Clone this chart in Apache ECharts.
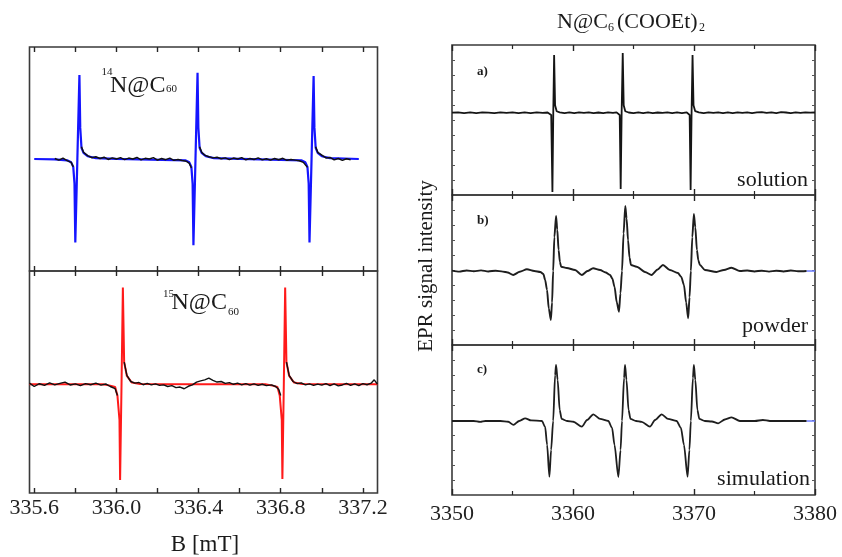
<!DOCTYPE html>
<html><head><meta charset="utf-8">
<script src="https://cdn.jsdelivr.net/npm/echarts@6/dist/echarts.min.js"></script>
<style>html,body{margin:0;padding:0;background:#fff}#c{width:842px;height:557px}</style>
</head><body><div id="c"></div>
<script>
// ---------- tick labels ----------
const leftTickLabels = [335.6, 336.0, 336.4, 336.8, 337.2];
const leftTicks = [335.6, 335.8, 336.0, 336.2, 336.4, 336.6, 336.8, 337.0, 337.2];
const rightTickLabels = [3350, 3360, 3370, 3380];

// ---------- 14N@C60 : fit (blue) ----------
const fit14N = [
  [335.60,0],[335.70,-0.004],[335.76,-0.012],[335.78,-0.03],[335.79,-0.07],[335.796,-0.22],[335.80,-0.745],
  [335.81,0],[335.82,0.75],[335.824,0.28],[335.83,0.1],[335.84,0.055],[335.86,0.025],[335.90,0.008],[336.00,0.002],
  [336.335,-0.012],[336.355,-0.03],[336.365,-0.07],[336.371,-0.22],[336.375,-0.77],[336.385,0],[336.395,0.77],
  [336.399,0.28],[336.405,0.1],[336.415,0.055],[336.435,0.025],[336.475,0.008],[336.60,0.002],
  [336.90,-0.012],[336.92,-0.03],[336.93,-0.07],[336.936,-0.22],[336.94,-0.745],[336.95,0],[336.96,0.74],
  [336.964,0.28],[336.97,0.1],[336.98,0.055],[337.00,0.025],[337.04,0.008],[337.18,0]
];
// ---------- 14N@C60 : experiment (black) ----------
const exp14N = [
  [335.70,0.005],[335.72,-0.01],[335.74,0.008],[335.76,-0.015],[335.78,-0.03],[335.79,-0.07],[335.80,null],
  [335.83,0.11],[335.84,0.06],[335.86,0.03],[335.88,0.012],[335.90,0.02],[335.92,0.004],[335.94,0.016],
  [335.96,-0.004],[335.98,0.01],[336.00,0.0],[336.02,0.012],[336.04,-0.006],[336.06,0.008],[336.08,0.0],
  [336.10,0.014],[336.12,-0.008],[336.14,0.006],[336.16,0.0],[336.18,0.012],[336.20,-0.01],[336.22,0.004],
  [336.24,-0.006],[336.26,0.008],[336.28,-0.012],[336.30,-0.004],[336.32,-0.014],[336.34,-0.02],[336.355,-0.04],
  [336.365,-0.08],[336.38,null],[336.405,0.11],[336.415,0.06],[336.43,0.035],[336.45,0.02],[336.47,0.01],
  [336.49,0.016],[336.51,0.002],[336.53,0.01],[336.55,-0.006],[336.57,0.008],[336.59,0.0],[336.61,0.012],
  [336.63,-0.008],[336.65,0.004],[336.67,-0.004],[336.69,0.01],[336.71,-0.008],[336.73,0.002],[336.75,-0.01],
  [336.77,0.004],[336.79,-0.006],[336.81,0.006],[336.83,-0.012],[336.85,-0.004],[336.87,-0.01],[336.89,-0.016],
  [336.91,-0.03],[336.93,-0.075],[336.945,null],[336.97,0.11],[336.98,0.06],[337.00,0.035],[337.02,0.01],
  [337.04,0.014],[337.06,-0.008],[337.08,0.004],[337.10,-0.012],[337.12,0.002],[337.14,-0.006]
];
// ---------- 15N@C60 : fit (red) ----------
const fit15N = [
  [335.577,0],[335.935,0],[335.97,-0.012],[335.994,-0.025],[336.005,-0.10],[336.015,-0.32],[336.018,-0.86],
  [336.025,0],[336.0315,0.87],[336.0377,0.2],[336.051,0.075],[336.075,0.015],[336.115,0.003],[336.40,0],
  [336.725,0],[336.76,-0.012],[336.784,-0.025],[336.795,-0.10],[336.805,-0.32],[336.808,-0.85],[336.815,0],
  [336.8215,0.87],[336.8277,0.2],[336.841,0.075],[336.865,0.015],[336.905,0.003],[337.271,0]
];
// ---------- 15N@C60 : experiment (black) ----------
const exp15N = [
  [335.577,0.01],[335.60,-0.02],[335.625,0.005],[335.65,-0.01],[335.675,0.012],[335.70,-0.005],[335.725,0.008],
  [335.75,0.02],[335.775,-0.006],[335.80,0.004],[335.825,-0.012],[335.85,0.006],[335.875,-0.004],[335.90,0.01],
  [335.925,-0.008],[335.95,0.002],[335.97,-0.02],[335.994,-0.04],[336.005,-0.1],[336.02,null],[336.038,0.2],
  [336.051,0.08],[336.07,0.025],[336.09,0.01],[336.11,0.016],[336.13,-0.004],[336.15,0.008],[336.17,-0.006],
  [336.19,0.004],[336.21,-0.01],[336.23,-0.005],[336.25,-0.02],[336.27,-0.012],[336.29,-0.03],[336.31,-0.025],
  [336.33,-0.04],[336.35,-0.018],[336.37,-0.005],[336.39,0.02],[336.41,0.03],[336.43,0.04],[336.45,0.055],
  [336.47,0.035],[336.49,0.02],[336.51,0.025],[336.53,0.008],[336.55,0.015],[336.57,0.0],[336.59,0.01],
  [336.61,-0.005],[336.63,0.006],[336.65,-0.008],[336.67,0.004],[336.69,-0.01],[336.71,0.0],[336.73,-0.012],
  [336.755,-0.005],[336.775,-0.02],[336.79,-0.045],[336.80,-0.1],[336.81,null],[336.828,0.2],[336.841,0.08],
  [336.86,0.025],[336.88,0.006],[336.90,0.012],[336.92,-0.006],[336.94,0.004],[336.96,-0.01],[336.98,0.002],
  [337.00,-0.008],[337.02,0.006],[337.04,-0.012],[337.06,0.004],[337.08,-0.014],[337.10,-0.006],[337.12,0.008],
  [337.14,-0.01],[337.16,0.004],[337.18,-0.012],[337.20,0.006],[337.22,-0.004],[337.24,0.01],[337.255,0.04],[337.271,0.0]
];
// ---------- N@C6(COOEt)2 : a) solution ----------
const solution = [
  [3350,0],[3350.5,0.006],[3351,-0.005],[3351.5,0.004],[3352,-0.006],[3352.5,0.005],[3353,0],[3353.5,-0.006],
  [3354,0.005],[3354.5,-0.003],[3355,0.006],[3355.5,-0.005],[3356,0.004],[3356.5,-0.004],[3357,0.006],[3357.5,-0.003],
  [3357.9,0.003],[3358.2,-0.03],[3358.30,-1.057],[3358.37,0],[3358.44,0.77],[3358.52,0.1],[3358.65,0.02],
  [3358.9,0.005],[3359.3,-0.004],[3359.7,0.006],[3360.1,-0.005],[3360.5,0.004],[3360.9,-0.003],[3361.3,0.006],
  [3361.7,-0.006],[3362.1,0.003],[3362.5,-0.004],[3362.9,0.005],[3363.3,-0.003],[3363.6,0.004],[3363.86,-0.03],
  [3363.94,-1.017],[3364.02,0],[3364.11,0.796],[3364.19,0.1],[3364.32,0.02],[3364.6,0.003],[3365.0,-0.005],
  [3365.4,0.006],[3365.8,-0.004],[3366.2,0.005],[3366.6,-0.006],[3367.0,0.003],[3367.4,-0.003],[3367.8,0.006],
  [3368.2,-0.005],[3368.6,0.004],[3369.0,-0.004],[3369.4,0.005],[3369.64,-0.03],[3369.72,-1.03],[3369.80,0],
  [3369.88,0.77],[3369.96,0.1],[3370.1,0.02],[3370.4,0.004],[3370.8,-0.005],[3371.2,0.006],[3371.6,-0.003],
  [3372.0,0.005],[3372.4,-0.006],[3372.8,0.004],[3373.2,-0.004],[3373.6,0.006],[3374.0,-0.003],[3374.4,0.005],
  [3374.8,-0.005],[3375.2,0.004],[3375.6,0.008],[3376.0,-0.003],[3376.4,0.006],[3376.8,-0.004],[3377.2,0.008],
  [3377.6,0.003],[3378.0,-0.004],[3378.4,0.005],[3378.8,-0.003],[3379.2,0.006],[3379.6,0],[3380,0.003]
];
// ---------- b) powder ----------
const powder = [
  [3350,0.005],[3350.6,-0.008],[3351.2,0.006],[3351.8,-0.004],[3352.4,0.008],[3353,-0.006],[3353.6,0.004],
  [3354.2,-0.008],[3354.6,-0.02],[3355.06,-0.053],[3355.6,-0.01],[3356.19,0.023],[3356.8,0],[3357.3,-0.013],
  [3357.55,-0.04],[3357.7,-0.12],[3357.85,-0.25],[3358.0,-0.5],[3358.17,-0.653],[3358.27,-0.42],[3358.36,0],
  [3358.46,0.45],[3358.6,0.733],[3358.7,0.55],[3358.81,0.28],[3358.92,0.12],[3359.02,0.057],[3359.49,0.04],
  [3360.17,0.013],[3360.73,-0.053],[3361.2,0],[3361.66,0.036],[3362.24,0.013],[3362.7,-0.02],[3363.06,-0.053],
  [3363.25,-0.1],[3363.43,-0.21],[3363.62,-0.42],[3363.8,-0.543],[3363.92,-0.3],[3364.05,0],[3364.18,0.5],
  [3364.32,0.867],[3364.43,0.7],[3364.55,0.41],[3364.67,0.18],[3364.79,0.08],[3365.26,0.057],[3365.95,-0.013],
  [3366.5,-0.053],[3367.0,0.02],[3367.43,0.08],[3368.01,0.013],[3368.67,-0.027],[3368.95,-0.08],[3369.17,-0.187],
  [3369.35,-0.42],[3369.52,-0.63],[3369.63,-0.35],[3369.74,0],[3369.86,0.45],[3369.99,0.76],[3370.11,0.58],
  [3370.24,0.28],[3370.36,0.14],[3370.49,0.08],[3370.9,0.013],[3371.86,-0.013],[3372.47,0.013],[3373.1,0.044],
  [3373.79,0],[3374.4,0.006],[3375,-0.006],[3375.6,0.004],[3376.2,-0.008],[3376.8,0.004],[3377.4,-0.006],
  [3378,0.006],[3378.6,-0.004],[3379.3,0]
];
// ---------- c) simulation ----------
const simulation = [
  [3350,0],[3351.8,0],[3352.33,-0.013],[3352.75,0],[3354.0,0],[3354.65,-0.01],[3355.08,-0.053],[3355.55,0],
  [3356.05,0.036],[3356.54,0.007],[3357.43,0],[3357.7,-0.08],[3357.86,-0.32],[3358.05,-0.743],[3358.19,-0.387],
  [3358.36,0],[3358.52,0.61],[3358.6,0.747],[3358.73,0.547],[3358.9,0.147],[3359.06,0.027],[3359.51,0],
  [3360.03,-0.01],[3360.73,-0.076],[3361.16,0.013],[3361.68,0.089],[3362.24,0.027],[3362.92,0],[3363.23,-0.093],
  [3363.43,-0.32],[3363.75,-0.747],[3363.93,-0.387],[3364.05,0],[3364.22,0.573],[3364.3,0.747],[3364.42,0.547],
  [3364.59,0.147],[3364.75,0.027],[3365.21,0],[3365.68,-0.013],[3366.36,-0.076],[3366.78,0.013],[3367.33,0.089],
  [3367.85,0.027],[3368.56,0],[3368.92,-0.093],[3369.17,-0.32],[3369.47,-0.743],[3369.62,-0.387],[3369.74,0],
  [3369.91,0.573],[3369.99,0.747],[3370.11,0.547],[3370.28,0.147],[3370.44,0.027],[3370.9,0],[3371.48,-0.007],
  [3372.0,-0.031],[3372.55,0.02],[3373.1,0.049],[3373.79,0],[3375.03,0],[3375.69,0.013],[3376.27,0],[3379.3,0]
];
const tailBlue = [[3379.3,0],[3380,0]];

// ---------- layout / style ----------
const SERIF = "'Liberation Serif','DejaVu Serif',serif";
const INK = '#262626';
const L = {left: 29.5, width: 348};
const R = {left: 452, width: 363};
const grids = [
  {left: L.left, top: 47, width: L.width, height: 224},
  {left: L.left, top: 271, width: L.width, height: 222},
  {left: R.left, top: 45, width: R.width, height: 150},
  {left: R.left, top: 195, width: R.width, height: 150},
  {left: R.left, top: 345, width: R.width, height: 150}
].map(g => Object.assign(g, {show: true, borderColor: '#3a3a3a', borderWidth: 1.6, backgroundColor: 'transparent'}));

const yRanges = [[-1, 1], [-0.977, 1.018], [-1.097, 0.903], [-0.987, 1.013], [-0.987, 1.013]];

function leftX(gi, pos, labels) {
  return {
    gridIndex: gi, type: 'value', position: pos, min: 335.577, max: 337.271,
    axisLine: {show: false, onZero: false}, splitLine: {show: false},
    axisTick: {show: true, inside: true, length: 5, customValues: leftTicks, lineStyle: {color: INK, width: 1.4}},
    axisLabel: {show: labels, customValues: leftTickLabels, formatter: v => Number(v).toFixed(1),
      fontFamily: SERIF, fontSize: 22, color: '#222', margin: 4}
  };
}
function rightX(gi, pos, labels) {
  return {
    gridIndex: gi, type: 'value', position: pos, min: 3350, max: 3380, interval: 10,
    axisLine: {show: false, onZero: false}, splitLine: {show: false},
    axisTick: {show: true, inside: true, length: 6, lineStyle: {color: INK, width: 1.4}},
    minorTick: {show: true, splitNumber: 2, length: 4, lineStyle: {color: INK, width: 1.2}},
    axisLabel: {show: labels, customValues: rightTickLabels, formatter: v => String(Math.round(v)),
      fontFamily: SERIF, fontSize: 22, color: '#222', margin: 8}
  };
}
function yAx(gi, pos, ticks) {
  const [m, M] = yRanges[gi];
  const cv = [];
  for (let k = 1; k < 10; k++) cv.push(m + k * (M - m) / 10);
  return {
    gridIndex: gi, type: 'value', position: pos, min: m, max: M,
    axisLine: {show: false, onZero: false}, splitLine: {show: false}, axisLabel: {show: false},
    axisTick: {show: ticks, inside: true, length: 3, customValues: cv, lineStyle: {color: '#555', width: 1}}
  };
}

const xAxis = [
  leftX(0, 'bottom', false), leftX(0, 'top', false),
  leftX(1, 'bottom', true), leftX(1, 'top', false),
  rightX(2, 'bottom', false), rightX(2, 'top', false),
  rightX(3, 'bottom', false), rightX(3, 'top', false),
  rightX(4, 'bottom', true), rightX(4, 'top', false)
];
const yAxis = [
  yAx(0, 'left', false), yAx(1, 'left', false),
  yAx(2, 'left', true), yAx(2, 'right', true),
  yAx(3, 'left', true), yAx(3, 'right', true),
  yAx(4, 'left', true), yAx(4, 'right', true)
];

function line(data, xi, yi, color, width, z, smooth) {
  return {type: 'line', data, xAxisIndex: xi, yAxisIndex: yi, showSymbol: false, symbol: 'none',
    connectNulls: false, z, smooth: smooth || false, smoothMonotone: smooth ? 'x' : undefined,
    lineStyle: {color, width}, silent: true, animation: false};
}

const series = [
  line(fit14N, 0, 0, '#1515ff', 2.2, 2),
  line(exp14N, 0, 0, '#111', 1.5, 3),
  line(fit15N, 2, 1, '#ff1a1a', 2.0, 2),
  line(exp15N, 2, 1, '#111', 1.4, 3),
  line(solution, 4, 2, '#151515', 1.8, 3),
  line(powder, 6, 4, '#1e1e1e', 1.9, 3, 0.25),
  line(tailBlue, 6, 4, '#6a7bff', 1.5, 2),
  line(simulation, 8, 6, '#1e1e1e', 1.8, 3, 0.25),
  line(tailBlue, 8, 6, '#6a7bff', 1.5, 2)
];

function txt(text, x, y, size, opts) {
  return Object.assign({type: 'text', x, y, silent: true, z: 10,
    style: Object.assign({text, fontFamily: SERIF, fontSize: size, fill: '#1a1a1a',
      align: 'left', verticalAlign: 'middle'}, (opts && opts.style) || {})}, (opts && opts.el) || {});
}

const graphic = [
  // left panel labels
  txt('14', 101.5, 72.5, 11),
  txt('N@C', 110, 86, 24),
  txt('60', 166, 89.5, 11),
  txt('15', 163, 294, 11),
  txt('N@C', 171.5, 302.5, 24),
  txt('60', 228, 312, 11),
  txt('B [mT]', 205, 545, 23, {style: {align: 'center'}}),
  // right panel title
  txt('N@C', 557, 22, 22),
  txt('6', 608, 28, 12),
  txt('(COOEt)', 617, 22, 22),
  txt('2', 699, 28, 12),
  // panel tags
  txt('a)', 477, 72, 13, {style: {fontWeight: 'bold'}}),
  txt('b)', 477, 221, 13, {style: {fontWeight: 'bold'}}),
  txt('c)', 477, 370, 13, {style: {fontWeight: 'bold'}}),
  txt('solution', 808, 180, 22, {style: {align: 'right'}}),
  txt('powder', 808, 326, 22, {style: {align: 'right'}}),
  txt('simulation', 810, 479, 22, {style: {align: 'right'}}),
  txt('EPR signal intensity', 426, 266, 21, {style: {align: 'center'}, el: {rotation: Math.PI / 2}})
];

const chart = echarts.init(document.getElementById('c'), null, {renderer: 'canvas'});
chart.setOption({animation: false, backgroundColor: '#fff', grid: grids, xAxis, yAxis, series, graphic});
</script></body></html>
